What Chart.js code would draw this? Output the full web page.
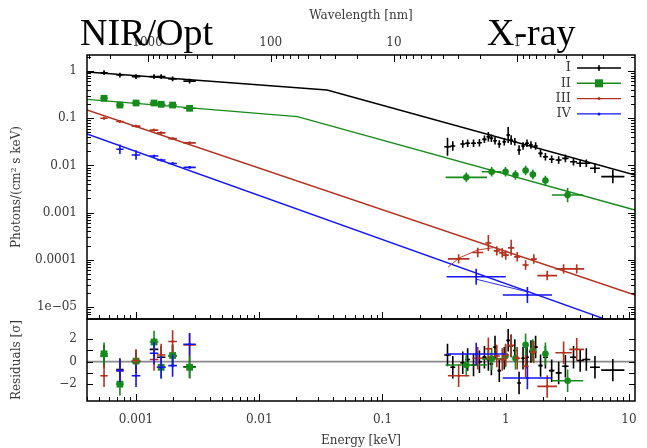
<!DOCTYPE html>
<html>
<head>
<meta charset="utf-8">
<script src="https://cdn.jsdelivr.net/npm/chart.js@4.4.1/dist/chart.umd.min.js"></script>
<style>
  html, body { margin: 0; padding: 0; background: #fff; }
  #wrap { width: 647px; height: 448px; }
</style>
</head>
<body>
<div id="wrap"><canvas id="sed" width="647" height="448"></canvas></div>
<script>
// axis ranges
const eMin = 4e-4, eMax = 11.2;          // keV
const fluxMin = 5.6e-6, fluxMax = 2.18;  // photons/(cm2 s keV)
const resMin = -3.5, resMax = 3.8;       // sigma
const hc = 1.23984;                      // keV nm

// NIR / optical filters (energy in keV, bin half width in dex)
const eNir   = [5.5e-4, 7.4e-4, 1.0e-3, 1.4e-3, 1.6e-3, 1.98e-3, 2.72e-3];
const binNir = [0.03, 0.03, 0.035, 0.035, 0.035, 0.035, 0.05];
const fluxNirI   = [0.92, 0.82, 0.76, 0.76, 0.76, 0.68, 0.61];
const fluxNirII  = [0.264, 0.19, 0.21, 0.21, 0.197, 0.19, 0.162];
const fluxNirIII = [0.100, 0.085, 0.068, 0.056, 0.049, 0.037, 0.030];
const fluxNirIV  = [null, 0.022, 0.0166, 0.0158, 0.013, 0.011, 0.0091];
const errNirI  = [0.05, 0.05, 0.05, 0.05, 0.05, 0.05, 0.05];
const errNir   = [0.03, 0.03, 0.03, 0.03, 0.03, 0.03, 0.03];
const errNirIV = [null, 0.1, 0.1, 0.03, 0.03, 0.03, 0.03];
const resNirI   = [0.5, -0.7, 0.0, 1.1, 0.4, 0.5, -0.45];
const resNirII  = [0.7, -2.0, 0.05, 1.75, -0.5, 0.55, -0.5];
const resNirIII = [-1.25, -0.8, 0.1, 0.2, 0.6, 1.8, 1.5];
const resNirIV  = [null, -0.8, -1.25, 0.75, -0.5, -0.35, 1.55];

// X-ray spectra
const eXrayI = [0.337, 0.372, 0.448, 0.491, 0.548, 0.612, 0.672, 0.723, 0.765, 0.819, 0.887, 0.973, 1.047, 1.107, 1.185,
  1.283, 1.382, 1.489, 1.603, 1.749, 1.918, 2.10, 2.36, 2.69, 3.05, 3.55, 4.02, 4.51, 5.3, 7.4];
const fluxXrayI = [0.0249, 0.0258, 0.0284, 0.0294, 0.0294, 0.0303, 0.0357, 0.0405, 0.0375, 0.0334, 0.0284, 0.0318, 0.044, 0.0345, 0.0318,
  0.0212, 0.0258, 0.0294, 0.0271, 0.0258, 0.018, 0.0153, 0.0135, 0.013, 0.0141, 0.012, 0.0111, 0.0111, 0.0087, 0.0058];
const binXrayI = [0.027, 0.02, 0.02, 0.02, 0.02, 0.02, 0.018, 0.015, 0.015, 0.015, 0.015, 0.015, 0.015, 0.015, 0.015,
  0.015, 0.015, 0.016, 0.016, 0.017, 0.018, 0.02, 0.022, 0.024, 0.026, 0.028, 0.03, 0.032, 0.04, 0.094];
const errXrayI = [0.19, 0.1, 0.08, 0.08, 0.08, 0.08, 0.08, 0.1, 0.08, 0.08, 0.08, 0.08, 0.17, 0.1, 0.08,
  0.1, 0.08, 0.08, 0.08, 0.08, 0.08, 0.08, 0.08, 0.08, 0.08, 0.08, 0.08, 0.08, 0.1, 0.14];
const resXrayI = [0.6, -0.5, -0.1, 0.2, -0.3, 0.0, 0.4, 0.2, -0.2, 1.3, -0.8, 0.3, 1.9, 1.4, 1.0,
  -1.9, 0.3, 0.4, 0.9, 1.3, -0.35, 0.4, -0.8, -1.0, -0.4, 0.4, 0.1, 0.2, -0.5, -0.75];

const eXrayII    = [0.479, 0.769, 0.996, 1.2, 1.45, 1.66, 2.1, 3.18];
const fluxXrayII = [0.0056, 0.00736, 0.00736, 0.00626, 0.0078, 0.0064, 0.0048, 0.00236];
const binXrayII  = [0.168, 0.08, 0.02, 0.02, 0.02, 0.02, 0.02, 0.127];
const errXrayII  = [0.1, 0.1, 0.1, 0.1, 0.1, 0.1, 0.1, 0.15];
const resXrayII  = [-0.3, 0.25, 0.5, 0.3, 1.5, 1.0, 0.7, -1.7];

const eXrayIII    = [0.415, 0.593, 0.723, 0.847, 0.937, 1.0, 1.107, 1.24, 1.45, 1.69, 2.17, 2.95, 3.77];
const fluxXrayIII = [1.05e-4, 1.43e-4, 2.27e-4, 1.55e-4, 1.41e-4, 1.26e-4, 1.8e-4, 1.16e-4, 7.8e-5, 1.04e-4, 4.65e-5, 6.45e-5, 6.45e-5];
const binXrayIII  = [0.087, 0.044, 0.025, 0.025, 0.025, 0.025, 0.025, 0.025, 0.025, 0.025, 0.08, 0.067, 0.06];
const errXrayIII  = [0.1, 0.1, 0.17, 0.1, 0.1, 0.1, 0.17, 0.1, 0.1, 0.1, 0.1, 0.1, 0.1];
const resXrayIII  = [-1.25, 0.3, 1.15, 0.5, 0.2, 0.6, 1.45, 0.3, -0.4, 0.85, -2.2, 0.8, 1.1];

const eXrayIV    = [0.576, 1.5];
const fluxXrayIV = [4.38e-5, 1.8e-5];
const binXrayIV  = [0.24, 0.2];
const errXrayIV  = [0.17, 0.17];
const resXrayIV  = [0.68, -1.45];

// best-fit (broken) power laws
const modelEnergyI   = [eMin, 0.0355, eMax];
const modelFluxI     = [0.95, 0.396, 0.00626];
const modelEnergyII  = [eMin, 0.0204, eMax];
const modelFluxII    = [0.25, 0.108, 0.00114];
const modelEnergyIII = [eMin, eMax];
const modelFluxIII   = [0.149, 1.8e-5];
const modelEnergyIV  = [eMin, eMax];
const modelFluxIV    = [0.0463, 3.3e-6];
// absorbed model across the soft X-ray bins
const absEnergyIII = [0.34, 0.42, 0.59, 0.8];
const absFluxIII   = [7e-5, 1.1e-4, 1.62e-4, 1.82e-4];
const absEnergyIV  = [0.576, 1.5];
const absFluxIV    = [3.9e-5, 2.1e-5];

const colI = '#000000', colII = '#178a1c', colIII = '#b3321f', colIV = '#1414f5';
const axisFont = { family: '"DejaVu Serif", serif', size: 12 };
const textCol = '#3a3a3a';

function withErrors(e, f, bin, err) {
  const pts = [];
  e.forEach((x, i) => {
    if (f[i] === null) return;
    const kx = Math.pow(10, bin[i]), ky = Math.pow(10, err[i]);
    pts.push({ x: x, y: f[i], xlo: x / kx, xhi: x * kx, ylo: f[i] / ky, yhi: f[i] * ky });
  });
  return pts;
}
function withSigma(e, r, bin) {
  const pts = [];
  e.forEach((x, i) => {
    if (r[i] === null) return;
    const kx = Math.pow(10, bin[i]);
    pts.push({ x: x, y: r[i], xlo: x / kx, xhi: x * kx, ylo: r[i] - 1, yhi: r[i] + 1 });
  });
  return pts;
}
function line(e, f) { return e.map((x, i) => ({ x: x, y: f[i] })); }

function isDecade(v) { const l = Math.log10(v); return Math.abs(l - Math.round(l)) < 1e-6; }
function isNice(v) {
  const m = v / Math.pow(10, Math.floor(Math.log10(v) + 1e-9));
  return Math.abs(m - Math.round(m)) < 1e-6;
}
function decadeLabel(v) {
  if (!isDecade(v)) return '';
  const n = Math.round(Math.log10(v));
  if (n >= -4) return Math.pow(10, n).toFixed(Math.max(0, -n));
  return '1e\u22120' + (-n);
}

const series = [
  { label: 'I',   color: colI,   nir: fluxNirI,   nirErr: errNirI,  nirRes: resNirI,
    e: eXrayI, f: fluxXrayI, bin: binXrayI, err: errXrayI, res: resXrayI, mE: modelEnergyI, mF: modelFluxI },
  { label: 'II',  color: colII,  nir: fluxNirII,  nirErr: errNir,   nirRes: resNirII,
    e: eXrayII, f: fluxXrayII, bin: binXrayII, err: errXrayII, res: resXrayII, mE: modelEnergyII, mF: modelFluxII },
  { label: 'III', color: colIII, nir: fluxNirIII, nirErr: errNir,   nirRes: resNirIII,
    e: eXrayIII, f: fluxXrayIII, bin: binXrayIII, err: errXrayIII, res: resXrayIII, mE: modelEnergyIII, mF: modelFluxIII },
  { label: 'IV',  color: colIV,  nir: fluxNirIV,  nirErr: errNirIV, nirRes: resNirIV,
    e: eXrayIV, f: fluxXrayIV, bin: binXrayIV, err: errXrayIV, res: resXrayIV, mE: modelEnergyIV, mF: modelFluxIV }
];

function markerStyle(ctx) {
  if (ctx.dataset.label !== 'II') return 'circle';
  return ctx.raw && ctx.raw.x < 0.1 ? 'rect' : 'circle';
}
function markerRadius(ctx) {
  if (ctx.dataset.label !== 'II') return 1.3;
  return ctx.raw && ctx.raw.x < 0.1 ? 4.8 : 3.3;
}

const datasets = [];
series.forEach((s, k) => {
  datasets.push({
    label: s.label + ' model', data: line(s.mE, s.mF), yAxisID: 'y', showLine: true,
    borderColor: s.color, borderWidth: 1.4, pointRadius: 0, order: 20
  });
  const nirPts = withErrors(eNir, s.nir, binNir, s.nirErr);
  const xPts = withErrors(s.e, s.f, s.bin, s.err);
  datasets.push({
    label: s.label, data: nirPts.concat(xPts), yAxisID: 'y', showLine: false, errorBars: true,
    borderColor: s.color, backgroundColor: s.color, pointBorderWidth: 0,
    pointStyle: markerStyle, pointRadius: markerRadius, order: 10 - k
  });
  const resPts = withSigma(eNir, s.nirRes, binNir).concat(withSigma(s.e, s.res, s.bin));
  datasets.push({
    label: s.label, data: resPts, yAxisID: 'yr', showLine: false, errorBars: true,
    borderColor: s.color, backgroundColor: s.color, pointBorderWidth: 0,
    pointStyle: markerStyle, pointRadius: markerRadius, order: 10 - k
  });
});
datasets.push({ label: 'III absorbed', data: line(absEnergyIII, absFluxIII), yAxisID: 'y', showLine: true,
  borderColor: colIII, borderWidth: 0.9, pointRadius: 0, order: 19 });
datasets.push({ label: 'IV absorbed', data: line(absEnergyIV, absFluxIV), yAxisID: 'y', showLine: true,
  borderColor: colIV, borderWidth: 0.9, pointRadius: 0, order: 19 });
datasets.push({ label: 'zero', data: line([eMin, eMax], [0, 0]), yAxisID: 'yr', showLine: true,
  borderColor: '#8a8a8a', borderWidth: 1.8, pointRadius: 0, order: 30 });

// each panel clips its own datasets, error bars drawn underneath the markers
const panelClip = {
  id: 'panelClip',
  beforeDatasetDraw(chart, args) {
    const ctx = chart.ctx, a = chart.chartArea;
    const ys = chart.scales[args.meta.yAxisID], xs = chart.scales.x;
    ctx.save();
    ctx.beginPath();
    ctx.rect(a.left, ys.top, a.right - a.left, ys.bottom - ys.top);
    ctx.clip();
    const ds = chart.data.datasets[args.index];
    if (!ds.errorBars) return;
    ctx.strokeStyle = ds.borderColor;
    ctx.lineWidth = 1.6;
    ctx.beginPath();
    ds.data.forEach(p => {
      const px = xs.getPixelForValue(p.x), py = ys.getPixelForValue(p.y);
      ctx.moveTo(xs.getPixelForValue(p.xlo), py);
      ctx.lineTo(xs.getPixelForValue(p.xhi), py);
      ctx.moveTo(px, ys.getPixelForValue(p.ylo));
      ctx.lineTo(px, ys.getPixelForValue(p.yhi));
    });
    ctx.stroke();
  },
  afterDatasetDraw(chart) { chart.ctx.restore(); }
};

// gnuplot-like frame with inward ticks on every side
const frameTicks = {
  id: 'frameTicks',
  afterDatasetsDraw(chart) {
    const ctx = chart.ctx, a = chart.chartArea;
    const { x, x2, y, yr } = chart.scales;
    ctx.save();
    ctx.strokeStyle = '#000';
    ctx.lineWidth = 1;
    ctx.beginPath();
    x.ticks.forEach(t => {
      if (!isNice(t.value)) return;
      const px = Math.round(x.getPixelForValue(t.value)) + 0.5;
      const len = isDecade(t.value) ? 7 : 4;
      [y.bottom, yr.bottom].forEach(b => { ctx.moveTo(px, b); ctx.lineTo(px, b - len); });
    });
    x2.ticks.forEach(t => {
      if (!isNice(t.value)) return;
      const px = Math.round(x2.getPixelForValue(t.value)) + 0.5;
      const len = isDecade(t.value) ? 7 : 4;
      ctx.moveTo(px, y.top); ctx.lineTo(px, y.top + len);
    });
    y.ticks.forEach(t => {
      if (!isNice(t.value)) return;
      const py = Math.round(y.getPixelForValue(t.value)) + 0.5;
      const len = isDecade(t.value) ? 7 : 4;
      ctx.moveTo(a.left, py); ctx.lineTo(a.left + len, py);
      ctx.moveTo(a.right, py); ctx.lineTo(a.right - len, py);
    });
    yr.ticks.forEach(t => {
      if (Math.abs(t.value - Math.round(t.value)) > 1e-6) return;
      const py = Math.round(yr.getPixelForValue(t.value)) + 0.5;
      ctx.moveTo(a.left, py); ctx.lineTo(a.left + 6, py);
      ctx.moveTo(a.right, py); ctx.lineTo(a.right - 6, py);
    });
    ctx.stroke();
    ctx.lineWidth = 1.5;
    ctx.strokeRect(a.left, y.top, a.right - a.left, y.bottom - y.top);
    ctx.strokeRect(a.left, yr.top, a.right - a.left, yr.bottom - yr.top);
    ctx.restore();
  }
};

// key in the upper right corner and the two band captions
const captions = {
  id: 'captions',
  afterDraw(chart) {
    const ctx = chart.ctx, a = chart.chartArea;
    ctx.save();
    series.forEach((s, i) => {
      const ly = a.top + 13 + i * 15.3;
      const x0 = a.right - 58, x1 = a.right - 14, xm = (x0 + x1) / 2;
      ctx.fillStyle = textCol;
      ctx.font = '13px "DejaVu Serif", serif';
      ctx.textAlign = 'right';
      ctx.textBaseline = 'middle';
      ctx.fillText(s.label, x0 - 6, ly);
      ctx.strokeStyle = s.color;
      ctx.lineWidth = 1.4;
      ctx.beginPath();
      ctx.moveTo(x0, ly); ctx.lineTo(x1, ly);
      if (s.label === 'I') { ctx.moveTo(xm, ly - 3); ctx.lineTo(xm, ly + 3); }
      ctx.stroke();
      ctx.fillStyle = s.color;
      if (s.label === 'II') ctx.fillRect(xm - 4, ly - 4, 8, 8);
      else { ctx.beginPath(); ctx.arc(xm, ly, 1.5, 0, Math.PI * 2); ctx.fill(); }
    });
    ctx.fillStyle = '#000';
    ctx.font = '38px "Liberation Serif", serif';
    ctx.textAlign = 'left';
    ctx.textBaseline = 'alphabetic';
    ctx.fillText('NIR/Opt', 80, 45);
    ctx.fillText('X-ray', 487, 45);
    ctx.restore();
  }
};

new Chart(document.getElementById('sed'), {
  type: 'scatter',
  data: { datasets: datasets },
  options: {
    responsive: false,
    animation: false,
    devicePixelRatio: 1,
    events: [],
    layout: { padding: { left: 0, right: 6, top: 0, bottom: 0 } },
    plugins: { legend: { display: false }, tooltip: { enabled: false } },
    scales: {
      x: {
        type: 'logarithmic', position: 'bottom', min: eMin, max: eMax,
        grid: { display: false, drawTicks: false }, border: { display: false },
        ticks: { autoSkip: false, maxRotation: 0, padding: 12, color: textCol, font: axisFont, callback: v => decadeLabel(v) },
        title: { display: true, text: 'Energy [keV]', color: textCol, font: axisFont, padding: { top: 0, bottom: 0 } },
        afterFit: s => { s.height = 47; }
      },
      x2: {
        type: 'logarithmic', position: 'top', reverse: true, min: hc / eMax, max: hc / eMin,
        grid: { display: false, drawTicks: false }, border: { display: false },
        ticks: { autoSkip: false, maxRotation: 0, padding: 5, color: textCol, font: axisFont, callback: v => decadeLabel(v) },
        title: { display: true, text: 'Wavelength [nm]', color: textCol, font: axisFont, padding: { top: 9, bottom: 0 } },
        afterFit: s => { s.height = 55; }
      },
      yr: {
        type: 'linear', position: 'left', stack: 'panels', stackWeight: 82, min: resMin, max: resMax,
        grid: { display: false, drawTicks: false }, border: { display: false },
        ticks: { stepSize: 1, autoSkip: false, padding: 10, color: textCol, font: axisFont,
          callback: v => (v === 2 ? '2' : v === 0 ? '0' : v === -2 ? '\u22122' : '') },
        title: { display: true, text: 'Residuals [\u03c3]', color: textCol, font: axisFont, padding: { top: 10, bottom: 0 } },
        afterFit: s => { s.width = 87; }
      },
      y: {
        type: 'logarithmic', position: 'left', stack: 'panels', stackWeight: 264, min: fluxMin, max: fluxMax,
        grid: { display: false, drawTicks: false }, border: { display: false },
        ticks: { autoSkip: false, padding: 10, color: textCol, font: axisFont, callback: v => decadeLabel(v) },
        title: { display: true, text: 'Photons/(cm\u00b2 s keV)', color: textCol, font: axisFont, padding: { top: 10, bottom: 0 } },
        afterFit: s => { s.width = 87; }
      }
    }
  },
  plugins: [panelClip, frameTicks, captions]
});
</script>
</body>
</html>
